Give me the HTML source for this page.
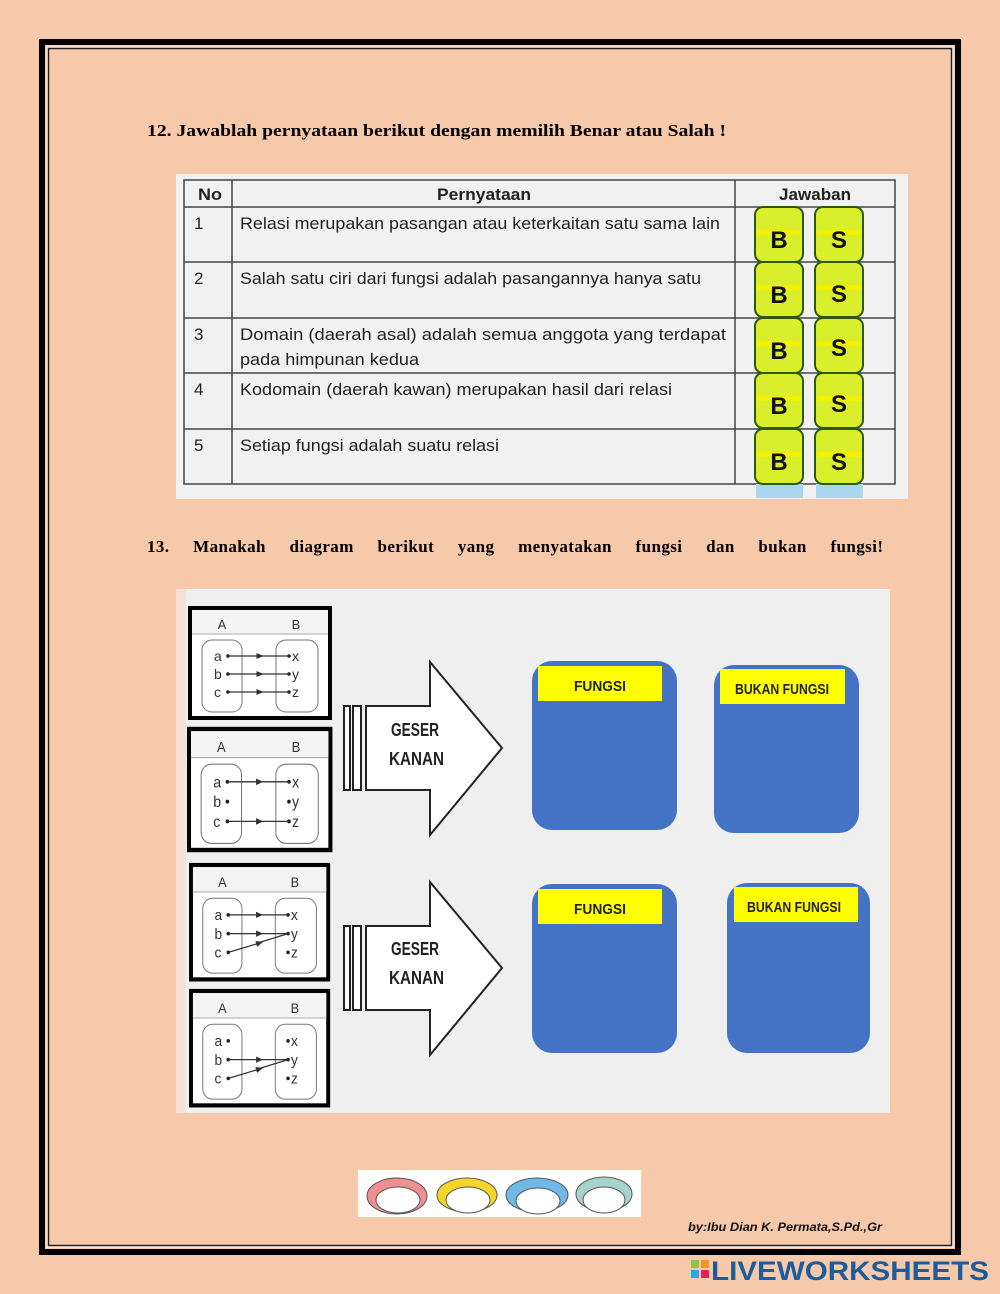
<!DOCTYPE html>
<html><head><meta charset="utf-8"><style>
html,body{margin:0;padding:0;background:#f6c9ab;}
svg{display:block;}
</style></head><body>
<svg width="1000" height="1294" viewBox="0 0 1000 1294" xmlns="http://www.w3.org/2000/svg">
<defs>
<marker id="ah" markerWidth="6" markerHeight="6" refX="3" refY="3" orient="auto"><path d="M0,0.5 L6,3 L0,5.5z" fill="#333"/></marker>
<g id="mini">
<rect x="0" y="0" width="140" height="110" fill="#fff" stroke="#000" stroke-width="4"/>
<rect x="2" y="2" width="136" height="24" fill="#f4f4f4"/>
<line x1="2" y1="26" x2="138" y2="26" stroke="#aaa"/>
<text x="32" y="21" font-family="Liberation Sans" font-size="13" fill="#333" text-anchor="middle">A</text>
<text x="106" y="21" font-family="Liberation Sans" font-size="13" fill="#333" text-anchor="middle">B</text>
<rect x="12" y="32" width="40" height="72" rx="10" fill="none" stroke="#777"/>
<rect x="86" y="32" width="42" height="72" rx="10" fill="none" stroke="#777"/>
<g font-family="Liberation Sans" font-size="14" fill="#333">
<text x="24" y="53">a</text><text x="24" y="71">b</text><text x="24" y="89">c</text>
<text x="102" y="53">x</text><text x="102" y="71">y</text><text x="102" y="89">z</text>
</g>
<g fill="#222"><circle cx="38" cy="48" r="1.8"/><circle cx="38" cy="66" r="1.8"/><circle cx="38" cy="84" r="1.8"/>
<circle cx="99" cy="48" r="1.8"/><circle cx="99" cy="66" r="1.8"/><circle cx="99" cy="84" r="1.8"/></g>
</g>
<g id="btn">
<rect x="755" y="207" width="48" height="55" rx="8" fill="#d9ef2c" stroke="#2d5a0a" stroke-width="2"/>
<rect x="815" y="207" width="48" height="55" rx="8" fill="#d9ef2c" stroke="#2d5a0a" stroke-width="2"/>
<rect x="757" y="230" width="44" height="5" fill="#f4f000"/>
<rect x="817" y="230" width="44" height="5" fill="#f4f000"/>
</g>
<g id="arr" stroke="#222" stroke-width="2" fill="#fff">
<rect x="344" y="706" width="6" height="84"/><rect x="353" y="706" width="8" height="84"/>
<polygon points="366,706 430,706 430,662 502,748 430,835 430,790 366,790"/>
</g>
</defs>
<rect width="1000" height="1294" fill="#f6c9ab"/>
<!-- frame -->
<rect x="42" y="42" width="916" height="1210" fill="none" stroke="#000" stroke-width="6"/>
<rect x="47" y="47" width="906" height="1200" fill="none" stroke="#fff" stroke-width="1"/>
<rect x="48.5" y="48.5" width="903" height="1197" fill="none" stroke="#222" stroke-width="1.5"/>

<text x="147" y="136" font-family="Liberation Serif" font-weight="bold" font-size="17" textLength="579" lengthAdjust="spacingAndGlyphs">12. Jawablah pernyataan berikut dengan memilih Benar atau Salah !</text>

<!-- table -->
<rect x="176" y="174" width="732" height="325" fill="#f1f1f1"/>
<g stroke="#444" stroke-width="1.5" fill="none">
<rect x="184" y="180" width="711" height="304"/>
<line x1="232" y1="180" x2="232" y2="484"/><line x1="735" y1="180" x2="735" y2="484"/>
<line x1="184" y1="207" x2="895" y2="207"/><line x1="184" y1="262" x2="895" y2="262"/>
<line x1="184" y1="318" x2="895" y2="318"/><line x1="184" y1="373" x2="895" y2="373"/>
<line x1="184" y1="429" x2="895" y2="429"/>
</g>
<g font-family="Liberation Sans" font-size="17" fill="#222">
<text x="198" y="200" font-weight="bold" textLength="24" lengthAdjust="spacingAndGlyphs">No</text>
<text x="437" y="200" font-weight="bold" textLength="94" lengthAdjust="spacingAndGlyphs">Pernyataan</text>
<text x="779" y="200" font-weight="bold" textLength="72" lengthAdjust="spacingAndGlyphs">Jawaban</text>
<text x="194" y="229">1</text><text x="194" y="284">2</text><text x="194" y="340">3</text><text x="194" y="395">4</text><text x="194" y="451">5</text>
<text x="240" y="229" textLength="480" lengthAdjust="spacingAndGlyphs">Relasi merupakan pasangan atau keterkaitan satu sama lain</text>
<text x="240" y="284" textLength="461" lengthAdjust="spacingAndGlyphs">Salah satu ciri dari fungsi adalah pasangannya hanya satu</text>
<text x="240" y="340" textLength="486" lengthAdjust="spacingAndGlyphs">Domain (daerah asal) adalah semua anggota yang terdapat</text>
<text x="240" y="365" textLength="179" lengthAdjust="spacingAndGlyphs">pada himpunan kedua</text>
<text x="240" y="395" textLength="432" lengthAdjust="spacingAndGlyphs">Kodomain (daerah kawan) merupakan hasil dari relasi</text>
<text x="240" y="451" textLength="259" lengthAdjust="spacingAndGlyphs">Setiap fungsi adalah suatu relasi</text>
</g>
<rect x="756" y="484" width="47" height="14" fill="#a9d8ee"/>
<rect x="816" y="484" width="47" height="14" fill="#a9d8ee"/>
<use href="#btn"/><use href="#btn" y="55"/><use href="#btn" y="111"/><use href="#btn" y="166"/><use href="#btn" y="222"/>
<g font-family="Liberation Sans" font-weight="bold" font-size="24" fill="#111" text-anchor="middle">
<text x="779" y="248">B</text><text x="839" y="248">S</text>
<text x="779" y="303">B</text><text x="839" y="302">S</text>
<text x="779" y="359">B</text><text x="839" y="356">S</text>
<text x="779" y="414">B</text><text x="839" y="412">S</text>
<text x="779" y="470">B</text><text x="839" y="470">S</text>
</g>

<text x="147" y="552" font-family="Liberation Serif" font-weight="bold" font-size="17" word-spacing="19" textLength="736" lengthAdjust="spacing">13. Manakah diagram berikut yang menyatakan fungsi dan bukan fungsi!</text>

<!-- diagram image -->
<rect x="176" y="589" width="714" height="524" fill="#efefef"/>
<rect x="176" y="589" width="10" height="524" fill="#f6e2d6"/>

<use href="#mini" transform="translate(190,608)"/>
<g transform="translate(190,608)" stroke="#333" stroke-width="1.2">
<line x1="38" y1="48" x2="70" y2="48" marker-end="url(#ah)"/><line x1="68" y1="48" x2="99" y2="48"/>
<line x1="38" y1="66" x2="70" y2="66" marker-end="url(#ah)"/><line x1="68" y1="66" x2="99" y2="66"/>
<line x1="38" y1="84" x2="70" y2="84" marker-end="url(#ah)"/><line x1="68" y1="84" x2="99" y2="84"/>
</g>
<use href="#mini" transform="translate(189,729) scale(1.01,1.1)"/>
<g transform="translate(189,729) scale(1.01,1.1)" stroke="#333" stroke-width="1.2">
<line x1="38" y1="48" x2="70" y2="48" marker-end="url(#ah)"/><line x1="68" y1="48" x2="99" y2="48"/>
<line x1="38" y1="84" x2="70" y2="84" marker-end="url(#ah)"/><line x1="68" y1="84" x2="99" y2="84"/>
</g>
<use href="#mini" transform="translate(191,865) scale(0.98,1.04)"/>
<g transform="translate(191,865) scale(0.98,1.04)" stroke="#333" stroke-width="1.2">
<line x1="38" y1="48" x2="70" y2="48" marker-end="url(#ah)"/><line x1="68" y1="48" x2="99" y2="48"/>
<line x1="38" y1="66" x2="70" y2="66" marker-end="url(#ah)"/><line x1="68" y1="66" x2="99" y2="66"/>
<line x1="38" y1="84" x2="70" y2="75" marker-end="url(#ah)"/><line x1="68" y1="75" x2="99" y2="66"/>
</g>
<use href="#mini" transform="translate(191,991) scale(0.98,1.04)"/>
<g transform="translate(191,991) scale(0.98,1.04)" stroke="#333" stroke-width="1.2">
<line x1="38" y1="66" x2="70" y2="66" marker-end="url(#ah)"/><line x1="68" y1="66" x2="99" y2="66"/>
<line x1="38" y1="84" x2="70" y2="75" marker-end="url(#ah)"/><line x1="68" y1="75" x2="99" y2="66"/>
</g>

<!-- arrows -->
<use href="#arr"/>
<use href="#arr" y="220"/>
<g font-family="Liberation Sans" font-weight="bold" font-size="18" fill="#222">
<text x="391" y="736" textLength="48" lengthAdjust="spacingAndGlyphs">GESER</text>
<text x="389" y="765" textLength="55" lengthAdjust="spacingAndGlyphs">KANAN</text>
<text x="391" y="955" textLength="48" lengthAdjust="spacingAndGlyphs">GESER</text>
<text x="389" y="984" textLength="55" lengthAdjust="spacingAndGlyphs">KANAN</text>
</g>

<!-- blue boxes -->
<g fill="#4472c4">
<rect x="532" y="661" width="145" height="169" rx="20"/>
<rect x="714" y="665" width="145" height="168" rx="20"/>
<rect x="532" y="884" width="145" height="169" rx="20"/>
<rect x="727" y="883" width="143" height="170" rx="20"/>
</g>
<g fill="#ffff00">
<rect x="538" y="666" width="124" height="35"/>
<rect x="720" y="669" width="125" height="35"/>
<rect x="538" y="889" width="124" height="35"/>
<rect x="734" y="887" width="124" height="35"/>
</g>
<g font-family="Liberation Sans" font-weight="bold" font-size="15" fill="#222" text-anchor="middle">
<text x="600" y="691" textLength="52" lengthAdjust="spacingAndGlyphs">FUNGSI</text>
<text x="782" y="694" textLength="94" lengthAdjust="spacingAndGlyphs">BUKAN FUNGSI</text>
<text x="600" y="914" textLength="52" lengthAdjust="spacingAndGlyphs">FUNGSI</text>
<text x="794" y="912" textLength="94" lengthAdjust="spacingAndGlyphs">BUKAN FUNGSI</text>
</g>

<!-- faces strip -->
<rect x="358" y="1170" width="283" height="47" fill="#fff"/>
<g stroke="#555" stroke-width="1">
<ellipse cx="397" cy="1196" rx="30" ry="18" fill="#ee8f92"/>
<ellipse cx="398" cy="1200" rx="22" ry="13" fill="#fff"/>
<ellipse cx="467" cy="1195" rx="30" ry="17" fill="#f5d42c"/>
<ellipse cx="468" cy="1200" rx="22" ry="13" fill="#fff"/>
<ellipse cx="537" cy="1195" rx="31" ry="17" fill="#6fb8e8"/>
<ellipse cx="538" cy="1201" rx="22" ry="13" fill="#fff"/>
<ellipse cx="604" cy="1194" rx="28" ry="17" fill="#a8d3cc"/>
<ellipse cx="604" cy="1200" rx="21" ry="13" fill="#fff"/>
</g>

<text x="688" y="1231" font-family="Liberation Sans" font-weight="bold" font-style="italic" font-size="12" fill="#111" textLength="194" lengthAdjust="spacingAndGlyphs">by:Ibu Dian K. Permata,S.Pd.,Gr</text>

<!-- logo -->
<rect x="691" y="1260" width="8" height="8" fill="#8cc63f"/><rect x="701" y="1260" width="8" height="8" fill="#f7941d"/>
<rect x="691" y="1270" width="8" height="8" fill="#29a9e0"/><rect x="701" y="1270" width="8" height="8" fill="#ec1c5a"/>
<text x="711" y="1280" font-family="Liberation Sans" font-weight="bold" font-size="27" fill="#1d5c9c" textLength="278" lengthAdjust="spacingAndGlyphs">LIVEWORKSHEETS</text>
</svg>
</body></html>
